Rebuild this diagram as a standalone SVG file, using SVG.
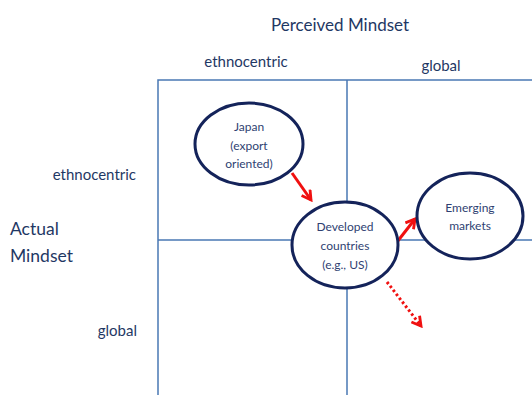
<svg xmlns="http://www.w3.org/2000/svg" width="532" height="395" viewBox="0 0 532 395">
<defs>
<style>
.lbl{font-family:Lato,"Liberation Sans",sans-serif;fill:#1f3864}
.ax{font-size:15px}
.nt{font-family:Lato,"Liberation Sans",sans-serif;font-size:12px;fill:#2f3f72;text-anchor:middle}
.grid{stroke:#4a78b4;stroke-width:1.5;fill:none}
.node{fill:#fff;stroke:#14235a;stroke-width:3}
.arr{stroke:#f01010;stroke-width:3;fill:none}
</style>
<marker id="ah" viewBox="0 0 10 10" refX="8" refY="5" markerWidth="4.3" markerHeight="4.3" orient="auto" markerUnits="strokeWidth">
<path d="M1,1 L8,5 L1,9" fill="none" stroke="#f01010" stroke-width="2.2"/>
</marker>
</defs>
<rect width="532" height="395" fill="#fff"/>
<g id="grid">
<path class="grid" d="M158,396 V80 H533 M347,80 V396 M158,240 H533"/>
</g>
<g id="labels">
<text class="lbl" x="340" y="31" font-size="17" text-anchor="middle">Perceived Mindset</text>
<text class="lbl ax" x="246" y="67" text-anchor="middle">ethnocentric</text>
<text class="lbl ax" x="441" y="71" text-anchor="middle">global</text>
<text class="lbl ax" x="136" y="180" text-anchor="end">ethnocentric</text>
<text class="lbl ax" x="137" y="336" text-anchor="end">global</text>
<text class="lbl" x="10" y="235" font-size="17.5">Actual</text>
<text class="lbl" x="10" y="262" font-size="17.5">Mindset</text>
</g>
<g id="connectors">
<line class="arr" x1="292" y1="173" x2="311" y2="200" marker-end="url(#ah)"/>
<line class="arr" x1="397" y1="242" x2="415" y2="219" marker-end="url(#ah)"/>
<line class="arr" x1="387" y1="282" x2="421" y2="326" stroke-dasharray="2.5 2.5" marker-end="url(#ah)"/>
</g>
<g id="japan">
<ellipse class="node" cx="249" cy="144" rx="54" ry="41"/>
<text class="nt" x="249" y="131">Japan</text>
<text class="nt" x="249" y="150">(export</text>
<text class="nt" x="249" y="168">oriented)</text>
</g>
<g id="developed">
<ellipse class="node" cx="345" cy="245" rx="53" ry="43"/>
<text class="nt" x="345" y="231">Developed</text>
<text class="nt" x="345" y="250">countries</text>
<text class="nt" x="345" y="269">(e.g., US)</text>
</g>
<g id="emerging">
<ellipse class="node" cx="470" cy="216" rx="53" ry="43"/>
<text class="nt" x="470" y="212">Emerging</text>
<text class="nt" x="470" y="230">markets</text>
</g>
</svg>
